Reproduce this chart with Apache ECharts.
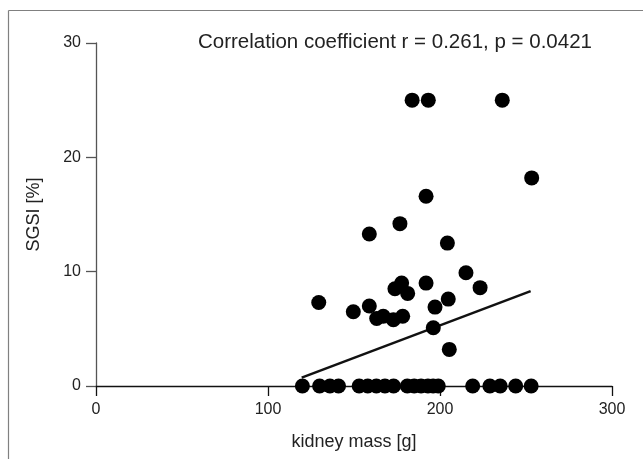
<!DOCTYPE html>
<html><head><meta charset="utf-8">
<script src="https://cdn.jsdelivr.net/npm/echarts@6/dist/echarts.min.js"></script>
<style>html,body{margin:0;padding:0;background:#fff;overflow:hidden}#c{width:643px;height:459px}</style>
</head><body><div id="c"></div>
<script>
var titleText = 'Correlation coefficient r = 0.261, p = 0.0421';
var xAxisName = 'kidney mass [g]';
var yAxisName = 'SGSI [%]';
var kidneyMass = [183.8,193.2,236.2,253.3,191.9,176.7,158.9,204.3,215.1,223.3,191.9,177.7,173.8,181.2,204.8,197.1,129.5,149.6,158.9,163.2,167.0,172.9,178.3,196.1,205.4,
  120,130,136,141,153,158,163,168,173,181,185,189,193,196,199,219,229,235,244,253];
var sgsi = [25,25,25,18.2,16.6,14.2,13.3,12.5,9.9,8.6,9.0,9.0,8.5,8.1,7.6,6.9,7.3,6.5,7.0,5.9,6.1,5.8,6.1,5.1,3.2,
  0,0,0,0,0,0,0,0,0,0,0,0,0,0,0,0,0,0,0,0];
var trendX = [119.6, 252.7];
var trendY = [0.73, 8.3];

var pts = kidneyMass.map(function(v,i){return [v, sgsi[i]];});
var trend = trendX.map(function(v,i){return [v, trendY[i]];});
var font = 'Liberation Sans, Arial, sans-serif';
var chart = echarts.init(document.getElementById('c'));
chart.setOption({
  animation:false,
  backgroundColor:'#fff',
  title:{text:titleText,left:193,top:27,textStyle:{fontFamily:font,fontSize:20.5,fontWeight:'normal',color:'#222'}},
  graphic:[
    {type:'line',shape:{x1:8.5,y1:10.5,x2:643,y2:10.5},style:{stroke:'#808080',lineWidth:1.2},silent:true},
    {type:'line',shape:{x1:8.5,y1:10.5,x2:8.5,y2:459},style:{stroke:'#808080',lineWidth:1.2},silent:true}
  ],
  grid:{left:96,right:31,top:43,bottom:73},
  xAxis:{type:'value',min:0,max:300,interval:100,
    name:xAxisName,nameLocation:'middle',nameGap:47,nameTextStyle:{fontFamily:font,fontSize:18,color:'#222'},
    axisLine:{onZero:false,lineStyle:{color:'#111',width:1.3}},
    axisTick:{show:true,length:10,lineStyle:{color:'#111',width:1.3}},
    axisLabel:{fontFamily:font,fontSize:16,color:'#222',margin:16},
    splitLine:{show:false}},
  yAxis:{type:'value',min:0,max:30,interval:10,
    name:yAxisName,nameLocation:'middle',nameGap:53,nameRotate:90,nameTextStyle:{fontFamily:font,fontSize:18,color:'#222'},
    axisLine:{show:true,onZero:false,lineStyle:{color:'#555',width:1.3}},
    axisTick:{show:true,length:10,lineStyle:{color:'#555',width:1.3}},
    axisLabel:{fontFamily:font,fontSize:16,color:'#222',margin:15},
    splitLine:{show:false}},
  series:[
    {type:'line',data:trend,showSymbol:false,symbol:'none',lineStyle:{color:'#111',width:2.5},z:2},
    {type:'scatter',data:pts,symbol:'circle',symbolSize:15,itemStyle:{color:'#000',opacity:1},z:3}
  ]
});
</script></body></html>
